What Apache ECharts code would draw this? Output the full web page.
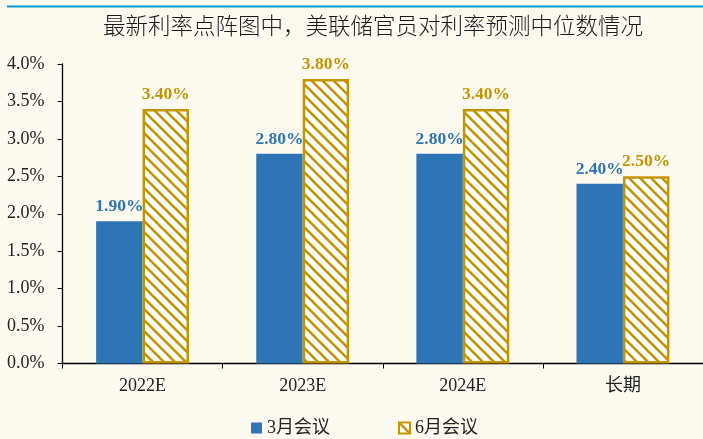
<!DOCTYPE html>
<html>
<head>
<meta charset="utf-8">
<script src="https://cdn.jsdelivr.net/npm/echarts@6/dist/echarts.min.js"></script>
<style>
  html, body { margin: 0; padding: 0; background: #FEFAF0; }
  #chart { width: 703px; height: 439px; }
</style>
</head>
<body>
<div id="chart"></div>
<script>
// Fed officials' median rate projections from the latest dot plot
const titleText = '最新利率点阵图中，美联储官员对利率预测中位数情况';
const categories = ['2022E', '2023E', '2024E', '长期'];
const seriesNames = ['3月会议', '6月会议'];
const marchValues = [1.9, 2.8, 2.8, 2.4];
const juneValues = [3.4, 3.8, 3.4, 2.5];
const yTicks = [0, 0.5, 1.0, 1.5, 2.0, 2.5, 3.0, 3.5, 4.0];

const BLUE = '#2E75B6';
const GOLD = '#C39500';
const SERIF = '"Liberation Serif", "Times New Roman", "Noto Sans CJK SC", serif';
const CJK = '"Liberation Serif", "Noto Sans CJK SC", serif';

// Diagonal hatch tile: gold stripes running top-left to bottom-right on white
function makeHatch() {
  const s = 11;
  const c = document.createElement('canvas');
  c.width = s; c.height = s;
  const g = c.getContext('2d');
  g.fillStyle = '#FFFFFF';
  g.fillRect(0, 0, s, s);
  g.strokeStyle = GOLD;
  g.lineWidth = 2.6;
  for (let k = -1; k <= 1; k++) {
    g.beginPath();
    g.moveTo(k * s - 2, -2);
    g.lineTo(k * s + s + 2, s + 2);
    g.stroke();
  }
  return c;
}
const hatch = { image: makeHatch(), repeat: 'repeat' };

const chart = echarts.init(document.getElementById('chart'));
chart.setOption({
  backgroundColor: '#FEFAF0',
  animation: false,
  graphic: [
    { type: 'rect', shape: { x: 7, y: 5.5, width: 700, height: 2 }, style: { fill: '#0598D9' }, silent: true },
    {
      type: 'text', x: 373, y: 25, silent: true,
      style: {
        text: titleText, font: '300 22.5px "Noto Sans CJK SC", serif', fill: '#1a1a1a',
        textAlign: 'center', textVerticalAlign: 'middle'
      }
    }
  ],
  grid: { left: 62.5, right: -3, top: 64, bottom: 75.5, containLabel: false },
  legend: {
    bottom: -3,
    left: 246,
    itemWidth: 11,
    itemHeight: 11,
    itemGap: 68,
    icon: 'rect',
    textStyle: { fontFamily: CJK, fontSize: 18, color: '#222222' },
    data: seriesNames
  },
  xAxis: {
    type: 'category',
    data: categories,
    axisLine: { lineStyle: { color: '#000000', width: 1.3 } },
    axisTick: { show: true, alignWithLabel: false, length: 5, lineStyle: { color: '#000000' } },
    axisLabel: { fontFamily: CJK, fontSize: 18, color: '#222222', margin: 14 }
  },
  yAxis: {
    type: 'value',
    min: yTicks[0],
    max: yTicks[yTicks.length - 1],
    interval: 0.5,
    splitLine: { show: false },
    axisLine: { show: true, lineStyle: { color: '#000000', width: 1.3 } },
    axisTick: { show: true, length: 5, lineStyle: { color: '#000000' } },
    axisLabel: {
      fontFamily: SERIF, fontSize: 18, color: '#222222', margin: 18,
      formatter: v => v.toFixed(1) + '%'
    }
  },
  series: [
    {
      name: seriesNames[0],
      type: 'bar',
      data: marchValues,
      barGap: '0%',
      barCategoryGap: '42%',
      itemStyle: { color: BLUE },
      label: {
        show: true, position: 'top', distance: 6,
        color: BLUE, fontFamily: SERIF, fontWeight: 'bold', fontSize: 17.5,
        formatter: p => p.value.toFixed(2) + '%'
      }
    },
    {
      name: seriesNames[1],
      type: 'bar',
      data: juneValues,
      itemStyle: { color: hatch, borderColor: GOLD, borderWidth: 2.5 },
      label: {
        show: true, position: 'top', distance: 6,
        color: GOLD, fontFamily: SERIF, fontWeight: 'bold', fontSize: 17.5,
        formatter: p => p.value.toFixed(2) + '%'
      }
    }
  ]
});
</script>
</body>
</html>
